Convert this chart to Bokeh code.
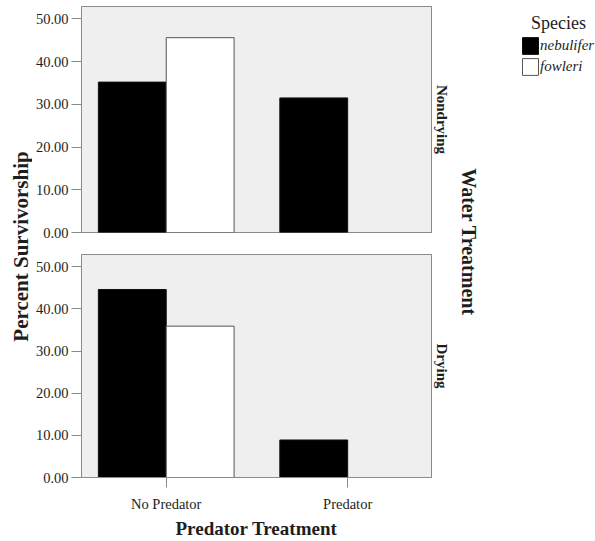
import math
from bokeh.plotting import figure
from bokeh.layouts import row, column
from bokeh.models import (ColumnDataSource, Range1d, FixedTicker, NumeralTickFormatter,
                          Label, Legend, LegendItem, LinearAxis)
from bokeh.core.properties import value
from bokeh.transform import dodge
from bokeh.embed import file_html
from bokeh.resources import INLINE

# ---------------- data ----------------
categories = ["No Predator", "Predator"]
species = ["nebulifer", "fowleri"]
panels = ["Nondrying", "Drying"]
nondrying_nebulifer = [35.2, 31.5]
nondrying_fowleri = [45.6, float("nan")]
drying_nebulifer = [44.6, 8.9]
drying_fowleri = [35.9, 0.0]
y_ticks = [0, 10, 20, 30, 40, 50]

# ---------------- style ----------------
SERIF = "Liberation Serif"
BG = "#efefef"
EDGE = "#8a8a8a"
TXT = "#1e1e1e"
BAR_W = 0.374


def make_panel(neb, fow, label, height, top, bottom, show_x):
    src = ColumnDataSource(dict(x=list(range(len(categories))), neb=neb, fow=fow))
    p = figure(width=420, height=height,
               x_range=Range1d(-0.467, 1.462), y_range=Range1d(0, 52.9),
               output_backend="svg", toolbar_location=None,
               min_border_left=49, min_border_right=20,
               min_border_top=top, min_border_bottom=bottom,
               x_axis_location="below" if show_x else None,
               y_axis_location="left")
    p.background_fill_color = BG
    p.border_fill_color = "white"
    p.outline_line_color = EDGE
    p.xgrid.visible = False
    p.ygrid.visible = False

    p.vbar(x=dodge("x", -BAR_W / 2), top="neb", width=BAR_W, source=src,
           fill_color="black", line_color="#111111")
    p.vbar(x=dodge("x", BAR_W / 2), top="fow", width=BAR_W, source=src,
           fill_color="white", line_color="#555555")

    ya = p.yaxis[0]
    ya.ticker = FixedTicker(ticks=y_ticks)
    ya.formatter = NumeralTickFormatter(format="0.00")
    ya.major_tick_out = 10
    ya.major_tick_in = 0
    ya.minor_tick_line_color = None
    ya.axis_line_color = EDGE
    ya.major_tick_line_color = EDGE
    ya.major_label_standoff = 3
    ya.major_label_text_font = SERIF
    ya.major_label_text_font_size = "14.5px"
    ya.major_label_text_color = TXT

    if show_x:
        xa = p.xaxis[0]
        xa.ticker = FixedTicker(ticks=list(range(len(categories))))
        xa.major_label_overrides = {i: c for i, c in enumerate(categories)}
        xa.major_tick_out = 10
        xa.major_tick_in = 0
        xa.minor_tick_line_color = None
        xa.axis_line_color = EDGE
        xa.major_tick_line_color = EDGE
        xa.major_label_standoff = 8
        xa.major_label_text_font = SERIF
        xa.major_label_text_font_size = "14.5px"
        xa.major_label_text_color = TXT
        xa.axis_label = "Predator Treatment"
        xa.axis_label_text_font = SERIF
        xa.axis_label_text_font_style = "bold"
        xa.axis_label_text_font_size = "19px"
        xa.axis_label_text_color = TXT
        xa.axis_label_standoff = 3

    # strip label on the right of each panel
    ra = LinearAxis(ticker=FixedTicker(ticks=[]), axis_label=label,
                    axis_line_color=EDGE, major_tick_line_color=None,
                    minor_tick_line_color=None, major_tick_out=0, major_tick_in=0,
                    major_label_standoff=0, axis_label_standoff=2,
                    axis_label_text_font=SERIF, axis_label_text_font_style="bold",
                    axis_label_text_font_size="15px", axis_label_text_color=TXT)
    p.add_layout(ra, "right")
    return p


top_fig = make_panel(nondrying_nebulifer, nondrying_fowleri, panels[0], 243, 6, 11, False)
bot_fig = make_panel(drying_nebulifer, drying_fowleri, panels[1], 298, 11, 62, True)


def blank(width):
    f = figure(width=width, height=541, x_range=Range1d(0, 1), y_range=Range1d(0, 1),
               output_backend="svg", toolbar_location=None,
               x_axis_location=None, y_axis_location=None, min_border=0)
    f.outline_line_color = None
    f.background_fill_color = "white"
    f.border_fill_color = "white"
    f.xgrid.visible = False
    f.ygrid.visible = False
    return f


left_fig = blank(32)
left_fig.add_layout(Label(x=20, y=541 - 246, x_units="screen", y_units="screen",
                          text="Percent Survivorship", angle=math.pi / 2,
                          text_align="center", text_baseline="middle",
                          text_font=SERIF, text_font_style="bold",
                          text_font_size="21px", text_color=TXT))

right_fig = blank(143)
right_fig.add_layout(Label(x=16, y=541 - 241.5, x_units="screen", y_units="screen",
                           text="Water Treatment", angle=-math.pi / 2,
                           text_align="center", text_baseline="middle",
                           text_font=SERIF, text_font_style="bold",
                           text_font_size="20px", text_color=TXT))
right_fig.add_layout(Label(x=106, y=541 - 22, x_units="screen", y_units="screen",
                           text="Species", text_align="center", text_baseline="middle",
                           text_font=SERIF, text_font_size="18px", text_color=TXT))

# legend proxies (hidden renderers carrying the series styles)
leg_src = ColumnDataSource(dict(x=list(range(len(categories))),
                                neb=drying_nebulifer, fow=drying_fowleri))
r_neb = right_fig.vbar(x="x", top="neb", width=0.5, source=leg_src,
                       fill_color="black", line_color="#111111", visible=False)
r_fow = right_fig.vbar(x="x", top="fow", width=0.5, source=leg_src,
                       fill_color="white", line_color="#555555", visible=False)
legend = Legend(items=[LegendItem(label=value(species[0]), renderers=[r_neb]),
                       LegendItem(label=value(species[1]), renderers=[r_fow])],
                location=(68, 464), glyph_width=20, glyph_height=21, spacing=0,
                padding=0, margin=0, label_standoff=0,
                label_text_font=SERIF, label_text_font_style="italic",
                label_text_font_size="15px", label_text_color=TXT,
                inactive_fill_alpha=0,
                background_fill_alpha=0, border_line_color=None)
right_fig.add_layout(legend)

layout = row(left_fig, column(top_fig, bot_fig), right_fig)

open("out.html", "w").write(file_html(layout, INLINE))
